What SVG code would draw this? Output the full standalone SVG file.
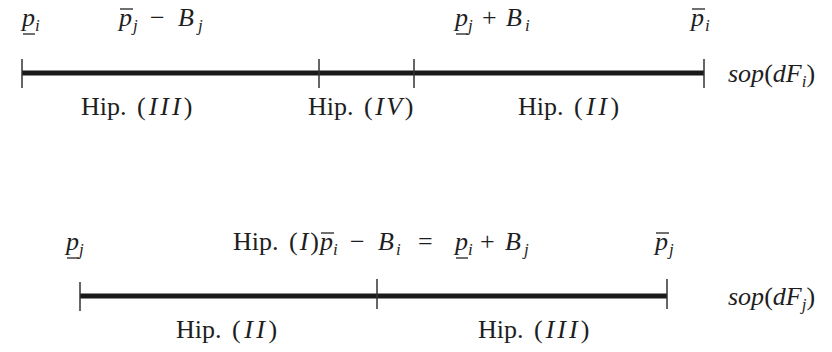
<svg xmlns="http://www.w3.org/2000/svg" width="832" height="352" viewBox="0 0 832 352">
<style>
text{font-family:"Liberation Serif","DejaVu Serif",serif;font-size:26px;fill:#1e1e1e}
.it{font-style:italic}
.sub{font-size:17px;font-style:italic}
.axis{stroke:#1a1a1a;stroke-width:5}
.tick{stroke:#333;stroke-width:1.5}
.bar{stroke:#222;stroke-width:1.3}
</style>
<rect width="832" height="352" fill="#fff"/>
<g id="axis-i">
<line class="axis" x1="22" y1="73" x2="704" y2="73"/>
<line class="tick" x1="22" y1="59" x2="22" y2="88"/>
<line class="tick" x1="319" y1="59" x2="319" y2="88"/>
<line class="tick" x1="414" y1="59" x2="414" y2="88"/>
<line class="tick" x1="704" y1="59" x2="704" y2="88"/>
</g>
<g id="labels-i">
<text x="22" y="26" class="it">p</text><text x="35" y="31" class="sub">i</text>
<line class="bar" x1="23" y1="34" x2="35" y2="34"/>
<text x="119" y="26" class="it">p</text><text x="133" y="31" class="sub">j</text>
<line class="bar" x1="120" y1="9" x2="133" y2="9"/>
<text x="150" y="26">−</text>
<text x="178" y="26" class="it">B</text><text x="198" y="31" class="sub">j</text>
<text x="455" y="26" class="it">p</text><text x="468" y="31" class="sub">j</text>
<line class="bar" x1="456" y1="34" x2="468" y2="34"/>
<text x="482" y="26">+</text>
<text x="506" y="26" class="it">B</text><text x="525" y="31" class="sub">i</text>
<text x="691" y="26" class="it">p</text><text x="705" y="31" class="sub">i</text>
<line class="bar" x1="692" y1="9" x2="705" y2="9"/>
<text x="728" y="82"><tspan class="it">sop</tspan>(<tspan class="it">dF</tspan><tspan class="sub" dy="5">i</tspan><tspan dy="-5">)</tspan></text>
<text x="81" y="115">Hip.</text><text x="137" y="115" letter-spacing="3">(<tspan class="it">III</tspan>)</text>
<text x="308" y="115">Hip.</text><text x="364" y="115" letter-spacing="2.5">(<tspan class="it">IV</tspan>)</text>
<text x="518" y="115">Hip.</text><text x="574" y="115" letter-spacing="3.5">(<tspan class="it">II</tspan>)</text>
</g>
<g id="axis-j">
<line class="axis" x1="80" y1="296" x2="667" y2="296"/>
<line class="tick" x1="80" y1="282" x2="80" y2="311"/>
<line class="tick" x1="377" y1="279" x2="377" y2="309"/>
<line class="tick" x1="667" y1="279" x2="667" y2="309"/>
</g>
<g id="labels-j">
<text x="66" y="250" class="it">p</text><text x="79" y="255" class="sub">j</text>
<line class="bar" x1="67" y1="258" x2="79" y2="258"/>
<text x="233" y="250">Hip.</text><text x="289" y="250" letter-spacing="2">(<tspan class="it">I</tspan>)</text>
<text x="320" y="250" class="it">p</text><text x="333" y="255" class="sub">i</text>
<line class="bar" x1="321" y1="233" x2="334" y2="233"/>
<text x="350" y="250">−</text>
<text x="378" y="250" class="it">B</text><text x="396" y="255" class="sub">i</text>
<text x="418" y="250">=</text>
<text x="455" y="250" class="it">p</text><text x="468" y="255" class="sub">i</text>
<line class="bar" x1="456" y1="258" x2="468" y2="258"/>
<text x="480" y="250">+</text>
<text x="505" y="250" class="it">B</text><text x="524" y="255" class="sub">j</text>
<text x="655" y="250" class="it">p</text><text x="669" y="255" class="sub">j</text>
<line class="bar" x1="656" y1="233" x2="669" y2="233"/>
<text x="728" y="305"><tspan class="it">sop</tspan>(<tspan class="it">dF</tspan><tspan class="sub" dy="5">j</tspan><tspan dy="-5">)</tspan></text>
<text x="176" y="338">Hip.</text><text x="232" y="338" letter-spacing="3.5">(<tspan class="it">II</tspan>)</text>
<text x="478" y="338">Hip.</text><text x="534" y="338" letter-spacing="3">(<tspan class="it">III</tspan>)</text>
</g>
</svg>
